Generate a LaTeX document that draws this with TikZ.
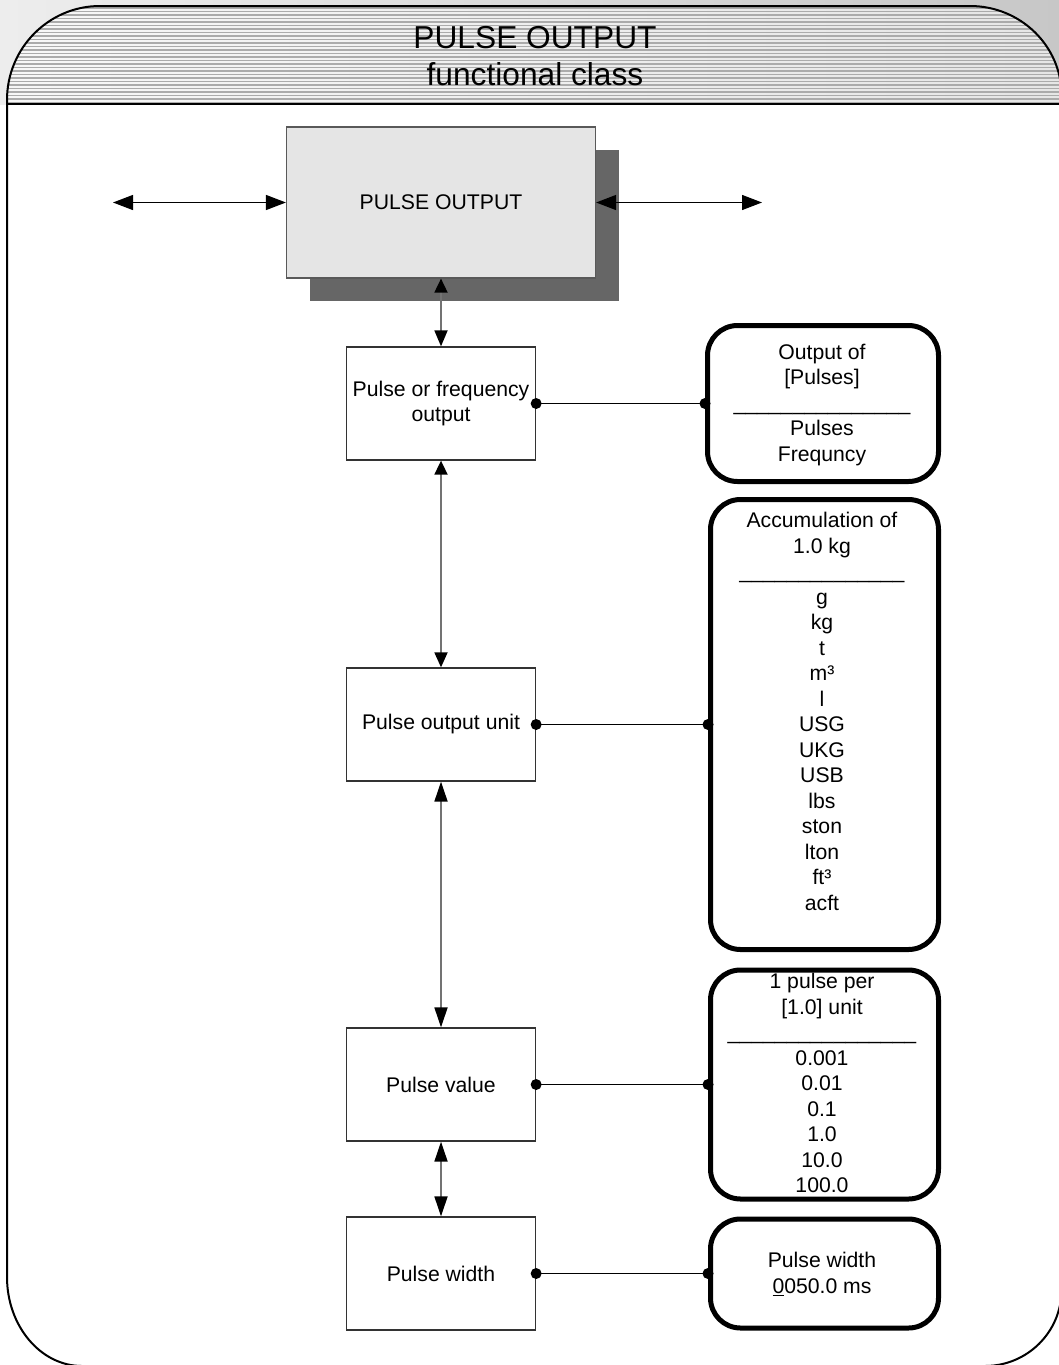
\documentclass[tikz,border=0pt]{standalone}
\usepackage{fontspec}
\setmainfont{Liberation Sans}
\usetikzlibrary{arrows.meta,calc}
\newcommand\bodyfont{\fontsize{21.2}{25.5}\selectfont}
\newcommand\headfont{\fontsize{31.7}{38}\selectfont}
\begin{document}
\begin{tikzpicture}[x=1pt,y=-1pt,
  lbox/.style={draw=black!80, line width=1.3pt, fill=white, minimum width=189pt, minimum height=113pt, inner sep=0pt, align=center, font=\bodyfont},
  rbox/.style={draw=black, line width=5pt, rounded corners=30pt, fill=white, inner sep=0pt},
  rtext/.style={anchor=north, inner sep=0pt, align=center, font=\bodyfont},
  varr/.style={line width=1.8pt, draw=black!55},
  harr/.style={line width=1.3pt, draw=black, {Triangle[length=20pt,width=15pt]}-{Triangle[length=20pt,width=15pt]}},
  conn/.style={line width=1.3pt, draw=black},
  dotr/.style={fill=black}
]
\useasboundingbox (0,0) rectangle (1058,1365);
\fill[white] (0,0) rectangle (1058,1365);

% header band
\shade[left color=black!7, right color=black!22] (0,0) rectangle (1064,104);
\begin{scope}
  \clip (7,1277) -- (7,100) .. controls (7,48) and (48.7,6) .. (100,6) -- (970,6) .. controls (1020.5,6) and (1061.5,45.9) .. (1061.5,95) -- (1061.5,1290) .. controls (1061.5,1332) and (1027.2,1366) .. (985,1366) -- (82,1366) .. controls (40.6,1366) and (7,1326) .. cycle;
  \fill[white] (0,104) rectangle (1064,1370);
  \shade[left color=black!3, right color=black!10] (0,0) rectangle (1064,104);
  \foreach \i in {0,...,27} \draw[black!33, line width=1.3pt] (0,{8+\i*3.5}) -- (1064,{8+\i*3.5});
\end{scope}
\draw[line width=2pt] (7,1277) -- (7,100) .. controls (7,48) and (48.7,6) .. (100,6) -- (970,6) .. controls (1020.5,6) and (1061.5,45.9) .. (1061.5,95) -- (1061.5,1290) .. controls (1061.5,1332) and (1027.2,1366) .. (985,1366) -- (82,1366) .. controls (40.6,1366) and (7,1326) .. cycle;
\draw[line width=2.5pt] (7,104) -- (1062,104);

\node[font=\headfont, anchor=base, inner sep=0pt] (title1) at (535,48) {PULSE OUTPUT};
\node[font=\headfont, anchor=base, inner sep=0pt] (title2) at (535,85) {functional class};

% top box with shadow
\node[fill=black!60, minimum width=309pt, minimum height=151pt, inner sep=0pt] (shadow) at (464,225.5) {};
\node[draw=black!65, line width=1.2pt, fill=black!10, minimum width=309pt, minimum height=151pt, inner sep=0pt, font=\bodyfont] (top) at (441,202.5) {PULSE OUTPUT};

% left boxes
\node[lbox] (b1) at (441,403.5) {Pulse or frequency\\output};
\node[lbox] (b2) at (441,724.5) {Pulse output unit};
\node[lbox] (b3) at (441,1084.5) {Pulse value};
\node[lbox] (b4) at (441,1273.5) {Pulse width};

% right boxes
\node[rbox, minimum width=231pt, minimum height=156pt] (r1) at (823,403.5) {};
\node[rbox, minimum width=228pt, minimum height=450pt] (r2) at (824.5,724.5) {};
\node[rbox, minimum width=228pt, minimum height=229pt] (r3) at (824.5,1084.5) {};
\node[rbox, minimum width=228pt, minimum height=109pt] (r4) at (824.5,1273.5) {};

\node[rtext] (t1) at (822,341.2) {\strut Output of\\{}[Pulses]\\\_\_\_\_\_\_\_\_\_\_\_\_\_\_\_\\Pulses\\Frequncy};
\node[rtext] (t2) at (822,509.7) {\strut Accumulation of\\1.0 kg\\\_\_\_\_\_\_\_\_\_\_\_\_\_\_\\g\\kg\\t\\m³\\l\\USG\\UKG\\USB\\lbs\\ston\\lton\\ft³\\acft};
\node[rtext] (t3) at (822,970.7) {\strut 1 pulse per\\{}[1.0] unit\\\_\_\_\_\_\_\_\_\_\_\_\_\_\_\_\_\\0.001\\0.01\\0.1\\1.0\\10.0\\100.0};
\node[rtext] (t4) at (822,1249.7) {\strut Pulse width\\\underline{0}050.0 ms};

% horizontal arrows
\coordinate (lend) at (113,202.5);
\coordinate (rend) at (762,202.5);
\draw[harr] (lend) -- (top.west);
\draw[harr] (top.east) -- (rend);

% vertical arrows
\draw[varr, {Triangle[length=14pt,width=13pt,color=black]}-{Triangle[length=16pt,width=13pt,color=black]}] (top.south) -- (b1.north);
\draw[varr, {Triangle[length=14pt,width=13pt,color=black]}-{Triangle[length=15pt,width=13pt,color=black]}] (b1.south) -- (b2.north);
\draw[varr, {Triangle[length=20pt,width=13pt,color=black]}-{Triangle[length=20pt,width=13pt,color=black]}] (b2.south) -- (b3.north);
\draw[varr, {Triangle[length=20pt,width=13pt,color=black]}-{Triangle[length=20pt,width=13pt,color=black]}] (b3.south) -- (b4.north);

% connectors
\foreach \a/\b in {b1/r1,b2/r2,b3/r3,b4/r4}{
  \draw[conn] (\a.east) -- (\b.west);
  \fill[dotr] (\a.east) circle (5.5pt);
  \fill[dotr] (\b.west) circle (5.5pt);
}
\end{tikzpicture}
\end{document}
